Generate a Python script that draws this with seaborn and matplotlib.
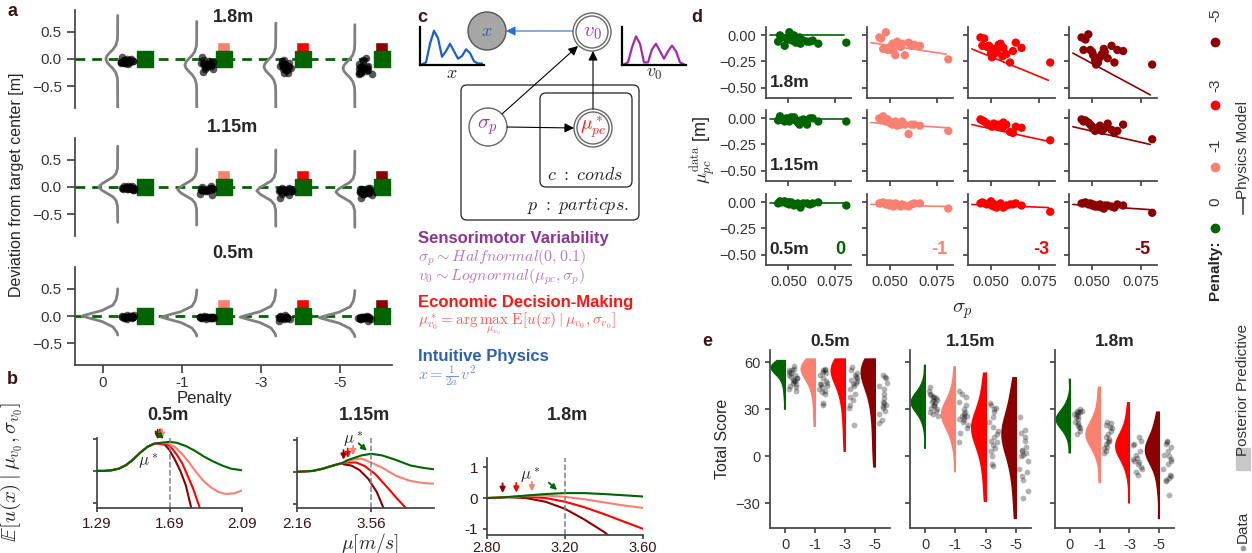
import numpy as np
import pandas as pd
import matplotlib
matplotlib.use('Agg')
import matplotlib.pyplot as plt
import matplotlib.transforms as mtransforms
from matplotlib.patches import Circle, FancyBboxPatch, Rectangle
import seaborn as sns

np.random.seed(3)

W, H = 1252, 553

penalties = ['0', '-1', '-3', '-5']
pen_colors = ['#006400', '#fa8072', '#ff0000', '#8b0000']
dark = '#3b1414'

# ---------------- panel d / a : per participant mean deviation ----------------
sigma_p = [0.0445, 0.0455, 0.0465, 0.0480, 0.0490, 0.0500, 0.0505, 0.0515, 0.0520, 0.0530,
           0.0540, 0.0550, 0.0560, 0.0565, 0.0580, 0.0600, 0.0615, 0.0630, 0.0660, 0.0810]

mu_18_p0 = [-0.06, 0.00, -0.02, -0.10, -0.03, -0.04, 0.03, -0.01, -0.05, 0.00,
            -0.07, -0.03, -0.02, -0.08, -0.05, -0.06, -0.06, -0.05, -0.08, -0.07]
mu_18_p1 = [-0.02, -0.03, -0.13, 0.03, -0.14, -0.12, -0.11, -0.08, -0.15, -0.19,
            -0.06, -0.10, -0.11, -0.08, -0.19, -0.07, -0.10, -0.09, -0.10, -0.23]
mu_18_p3 = [-0.02, -0.10, -0.03, -0.11, -0.10, -0.17, -0.21, -0.18, -0.13, -0.16,
            -0.09, -0.08, -0.20, -0.12, -0.18, -0.26, -0.15, -0.07, -0.12, -0.26]
mu_18_p5 = [-0.02, -0.14, -0.04, 0.01, -0.14, -0.16, -0.19, -0.24, -0.28, -0.26,
            -0.21, -0.18, -0.13, -0.16, -0.22, -0.10, -0.26, -0.14, -0.15, -0.28]

mu_115_p0 = [-0.02, 0.02, -0.01, -0.03, 0.00, -0.02, -0.03, 0.01, -0.01, 0.01,
             -0.02, -0.04, -0.06, -0.02, -0.01, -0.06, 0.00, 0.00, -0.03, -0.03]
mu_115_p1 = [0.00, -0.02, 0.02, -0.03, -0.01, -0.04, -0.05, -0.06, -0.04, -0.03,
             -0.07, -0.05, -0.06, -0.03, -0.06, -0.15, -0.06, -0.06, -0.07, -0.12]
mu_115_p3 = [-0.01, -0.02, -0.03, -0.05, -0.06, -0.07, -0.08, -0.05, -0.06, -0.07,
             -0.06, -0.08, -0.09, -0.04, -0.06, -0.13, -0.14, -0.08, -0.09, -0.21]
mu_115_p5 = [-0.01, -0.03, -0.02, -0.04, -0.06, -0.08, -0.10, -0.12, -0.11, -0.09,
             -0.07, -0.12, -0.10, -0.09, -0.05, -0.11, -0.14, -0.12, -0.06, -0.20]

mu_05_p0 = [-0.01, 0.01, 0.00, 0.01, -0.01, 0.00, -0.02, 0.00, -0.01, -0.03,
            -0.02, -0.01, -0.03, -0.05, -0.01, -0.01, -0.02, -0.01, 0.00, -0.03]
mu_05_p1 = [-0.01, -0.01, 0.00, -0.02, -0.01, -0.03, -0.01, -0.02, -0.04, -0.01,
            -0.02, -0.03, -0.04, -0.02, -0.03, -0.04, -0.02, -0.01, -0.01, -0.06]
mu_05_p3 = [-0.01, 0.00, -0.01, -0.02, -0.01, 0.01, -0.03, -0.04, -0.02, -0.05,
            -0.03, -0.01, -0.04, -0.05, -0.03, -0.02, -0.02, -0.01, -0.03, -0.09]
mu_05_p5 = [-0.01, -0.01, 0.00, -0.02, -0.01, -0.03, -0.02, -0.04, -0.03, -0.04,
            -0.02, -0.05, -0.06, -0.03, -0.03, -0.04, -0.05, -0.02, -0.03, -0.10]

# physics model lines (sigma at ends, mu at ends)
model_sigma = [0.040, 0.080]
model_18 = [[0.00, 0.00], [-0.07, -0.18], [-0.13, -0.43], [-0.17, -0.57]]
model_115 = [[-0.01, -0.01], [-0.04, -0.09], [-0.06, -0.22], [-0.08, -0.25]]
model_05 = [[-0.01, -0.01], [-0.02, -0.04], [-0.02, -0.05], [-0.02, -0.07]]

# ---------------- panel a : endpoint distribution shapes ----------------
curve_dy_18 = [-0.9, -0.45, -0.35, -0.25, -0.18, -0.12, -0.06, 0, 0.06, 0.12, 0.18, 0.25, 0.35, 0.45, 0.8]
curve_w_18 = [0, 0.001, 0.004, 0.024, 0.057, 0.098, 0.135, 0.15, 0.135, 0.098, 0.057, 0.024, 0.004, 0.001, 0]
curve_dy_115 = [-0.65, -0.35, -0.25, -0.18, -0.12, -0.06, 0, 0.06, 0.12, 0.18, 0.25, 0.35, 0.75]
curve_w_115 = [0, 0.002, 0.02, 0.06, 0.13, 0.20, 0.24, 0.20, 0.13, 0.06, 0.02, 0.002, 0]
curve_dy_05 = [-0.35, -0.3, -0.2, -0.1, -0.05, 0, 0.05, 0.1, 0.2, 0.3, 0.4, 0.5]
curve_w_05 = [0, 0.01, 0.06, 0.20, 0.33, 0.45, 0.33, 0.20, 0.06, 0.02, 0.005, 0]
curve_center_18 = [0.0, -0.11, -0.14, -0.17]
curve_center_115 = [0.0, -0.05, -0.07, -0.09]
curve_center_05 = [0.0, -0.02, -0.02, -0.03]
penalty_zone_top = 0.32

# ---------------- panel b : expected utility curves ----------------
b05_rise_mu = [1.29, 1.33, 1.37, 1.41, 1.45, 1.49, 1.53, 1.57, 1.61]
b05_rise_u = [0.0, 0.0, 0.02, 0.07, 0.18, 0.36, 0.58, 0.76, 0.86]
b05_mu_p0 = [1.64, 1.69, 1.73, 1.78, 1.83, 1.88, 1.93, 1.98, 2.03, 2.09]
b05_u_p0 = [0.9, 0.91, 0.88, 0.78, 0.63, 0.45, 0.3, 0.17, 0.07, 0.02]
b05_mu_p1 = [1.64, 1.68, 1.72, 1.76, 1.80, 1.84, 1.88, 1.92, 1.96, 2.00, 2.05, 2.09]
b05_u_p1 = [0.9, 0.87, 0.75, 0.53, 0.25, -0.06, -0.33, -0.52, -0.66, -0.72, -0.70, -0.61]
b05_mu_p3 = [1.64, 1.67, 1.70, 1.73, 1.76, 1.79, 1.82, 1.86, 1.90]
b05_u_p3 = [0.9, 0.86, 0.73, 0.51, 0.24, -0.15, -0.55, -1.2, -1.9]
b05_mu_p5 = [1.64, 1.665, 1.69, 1.72, 1.75, 1.78, 1.81, 1.85]
b05_u_p5 = [0.89, 0.82, 0.65, 0.35, 0.0, -0.45, -1.16, -2.0]
b05_mu_star = [1.67, 1.648, 1.637, 1.625]

b115_rise_mu = [2.16, 2.46, 2.65, 2.85, 3.01]
b115_rise_u = [0.0, 0.03, 0.1, 0.2, 0.27]
b115_mu_p0 = [3.01, 3.11, 3.38, 3.56, 3.77, 4.03, 4.30, 4.56, 4.80]
b115_u_p0 = [0.27, 0.36, 0.51, 0.56, 0.51, 0.37, 0.2, 0.12, 0.07]
b115_mu_p1 = [3.01, 3.18, 3.38, 3.56, 3.77, 4.03, 4.30, 4.56, 4.80]
b115_u_p1 = [0.27, 0.37, 0.41, 0.29, 0.13, -0.12, -0.28, -0.35, -0.37]
b115_mu_p3 = [3.01, 3.11, 3.28, 3.44, 3.64, 3.84, 4.03, 4.23, 4.4]
b115_u_p3 = [0.27, 0.29, 0.29, 0.18, -0.07, -0.43, -0.79, -1.14, -1.5]
b115_mu_p5 = [3.01, 3.05, 3.18, 3.34, 3.51, 3.67, 3.80, 3.95]
b115_u_p5 = [0.27, 0.23, 0.2, 0.06, -0.22, -0.63, -1.14, -1.7]
b115_mu_star = [3.52, 3.22, 3.12, 3.04]

b18_rise_mu = [2.80, 2.85, 2.90]
b18_rise_u = [0.0, 0.01, 0.03]
b18_mu_p0 = [2.90, 3.0, 3.1, 3.2, 3.3, 3.4, 3.5, 3.6]
b18_u_p0 = [0.03, 0.08, 0.13, 0.16, 0.16, 0.13, 0.09, 0.05]
b18_mu_p1 = [2.90, 3.0, 3.1, 3.2, 3.3, 3.4, 3.5, 3.6]
b18_u_p1 = [0.03, 0.07, 0.08, 0.04, -0.04, -0.14, -0.24, -0.32]
b18_mu_p3 = [2.90, 3.0, 3.1, 3.2, 3.3, 3.4, 3.5, 3.6]
b18_u_p3 = [0.03, 0.04, 0.0, -0.12, -0.3, -0.52, -0.76, -1.0]
b18_mu_p5 = [2.90, 3.0, 3.1, 3.2, 3.3, 3.4, 3.5]
b18_u_p5 = [0.03, 0.0, -0.12, -0.35, -0.7, -1.1, -1.6]
b18_mu_star = [3.17, 3.03, 2.95, 2.88]

# ---------------- panel c : mini densities ----------------
x_density = [0, 0.05, 0.55, 0.9, 0.7, 0.2, 0.35, 0.55, 0.35, 0.15, 0.22, 0.4, 0.3, 0.08, 0.02, 0.02]
v0_density = [0, 0.05, 0.45, 0.75, 0.55, 0.05, 0.05, 0.4, 0.55, 0.35, 0.15, 0.35, 0.5, 0.35, 0.05, 0]

# ---------------- panel e : total scores ----------------
score_05_p0 = [58, 56, 55, 55, 54, 53, 52, 52, 51, 50, 50, 49, 48, 48, 47, 46, 45, 44, 43, 42]
score_05_p1 = [56, 55, 55, 54, 53, 52, 50, 48, 47, 46, 46, 45, 44, 43, 42, 41, 40, 34, 33]
score_05_p3 = [57, 55, 53, 52, 51, 50, 49, 48, 47, 46, 45, 43, 40, 38, 36, 33, 31, 20]
score_05_p5 = [52, 51, 50, 47, 45, 43, 40, 37, 35, 34, 33, 32, 31, 29, 27, 23, 21]
score_115_p0 = [44, 42, 40, 39, 38, 38, 37, 36, 36, 35, 34, 33, 32, 31, 30, 29, 28, 27, 26]
score_115_p1 = [42, 40, 38, 35, 33, 30, 28, 27, 26, 26, 25, 24, 23, 22, 20, 18, 15, 9]
score_115_p3 = [34, 33, 31, 30, 28, 25, 22, 19, 16, 14, 12, 10, 9, 7, 5, 3, 0, -5, -6]
score_115_p5 = [25, 17, 15, 12, 10, 6, 4, 3, 2, 1, 0, -3, -8, -10, -13, -15, -22, -27]
score_18_p0 = [30, 29, 29, 28, 28, 27, 27, 26, 25, 24, 22, 21, 20, 19, 18, 16, 14]
score_18_p1 = [22, 21, 20, 19, 18, 16, 14, 12, 11, 10, 9, 8, 6, 5, 3, 2]
score_18_p3 = [12, 10, 8, 7, 3, 1, -1, -2, -3, -4, -5, -7, -8, -10, -12]
score_18_p5 = [10, 9, 8, 6, 3, 1, 0, -2, -3, -5, -8, -12, -13, -14, -15, -16, -25]

pp_05_p0 = [30, 38, 44, 48, 51, 53, 54, 55, 56, 56, 57, 57, 58, 58, 59, 60, 61, 62]
pp_05_p1 = [19, 28, 36, 42, 46, 49, 51, 53, 54, 55, 56, 57, 58, 59, 60, 61, 63]
pp_05_p3 = [3, 15, 25, 33, 39, 43, 47, 50, 52, 54, 55, 56, 57, 58, 60, 61, 63]
pp_05_p5 = [-7, 5, 15, 25, 32, 38, 43, 47, 50, 52, 54, 55, 56, 57, 59, 61, 63]
pp_115_p0 = [5, 18, 25, 28, 30, 32, 33, 34, 35, 35, 36, 37, 38, 40, 43, 48, 59]
pp_115_p1 = [-10, 5, 12, 17, 20, 23, 25, 26, 27, 28, 29, 31, 33, 36, 41, 48, 58]
pp_115_p3 = [-29, -15, -5, 2, 7, 11, 14, 16, 18, 19, 21, 23, 26, 30, 36, 44, 54]
pp_115_p5 = [-40, -25, -14, -6, 0, 5, 9, 12, 13, 15, 17, 20, 24, 29, 35, 42, 51]
pp_18_p0 = [2, 12, 16, 19, 21, 22, 23, 23, 24, 25, 26, 27, 29, 32, 37, 50]
pp_18_p1 = [-17, -2, 4, 8, 10, 12, 13, 14, 15, 16, 18, 20, 23, 28, 35, 45]
pp_18_p3 = [-30, -14, -6, -1, 2, 4, 5, 6, 7, 8, 10, 12, 15, 20, 27, 35]
pp_18_p5 = [-40, -22, -12, -5, -1, 1, 2, 3, 4, 5, 7, 9, 12, 17, 22, 29]

# ---------------- lookups ----------------
mu_data = {'1.8m': [mu_18_p0, mu_18_p1, mu_18_p3, mu_18_p5],
           '1.15m': [mu_115_p0, mu_115_p1, mu_115_p3, mu_115_p5],
           '0.5m': [mu_05_p0, mu_05_p1, mu_05_p3, mu_05_p5]}
model_lines = {'1.8m': model_18, '1.15m': model_115, '0.5m': model_05}
curve_shape = {'1.8m': (curve_dy_18, curve_w_18, curve_center_18),
               '1.15m': (curve_dy_115, curve_w_115, curve_center_115),
               '0.5m': (curve_dy_05, curve_w_05, curve_center_05)}

rows = []
for dist, lists in [('0.5m', [score_05_p0, score_05_p1, score_05_p3, score_05_p5]),
                    ('1.15m', [score_115_p0, score_115_p1, score_115_p3, score_115_p5]),
                    ('1.8m', [score_18_p0, score_18_p1, score_18_p3, score_18_p5])]:
    for pen, vals in zip(penalties, lists):
        rows += [(dist, pen, v) for v in vals]
score_df = pd.DataFrame(rows, columns=['dist', 'pen', 'score'])
rows = []
for dist, lists in [('0.5m', [pp_05_p0, pp_05_p1, pp_05_p3, pp_05_p5]),
                    ('1.15m', [pp_115_p0, pp_115_p1, pp_115_p3, pp_115_p5]),
                    ('1.8m', [pp_18_p0, pp_18_p1, pp_18_p3, pp_18_p5])]:
    for pen, vals in zip(penalties, lists):
        rows += [(dist, pen, v) for v in vals]
pp_df = pd.DataFrame(rows, columns=['dist', 'pen', 'score'])

# ---------------- style ----------------
sns.set_theme(style='ticks')
plt.rcParams['font.family'] = ['Liberation Sans', 'DejaVu Sans']
plt.rcParams['mathtext.fontset'] = 'cm'
plt.rcParams['axes.edgecolor'] = '#444444'
plt.rcParams['xtick.color'] = '#444444'
plt.rcParams['ytick.color'] = '#444444'
plt.rcParams['xtick.labelcolor'] = '#333333'
plt.rcParams['ytick.labelcolor'] = '#333333'

fig = plt.figure(figsize=(W / 100, H / 100), dpi=100)


def add_ax(x0, y0, x1, y1):
    return fig.add_axes([x0 / W, 1 - y1 / H, (x1 - x0) / W, (y1 - y0) / H])


def ftext(x, y, s, **kw):
    return fig.text(x / W, 1 - y / H, s, **kw)


def shift(ax, dx):
    return mtransforms.offset_copy(ax.transData, fig=fig, x=dx, y=0, units='dots')


# ================= panel a =================
a_boxes = {'1.8m': (75, 10, 392, 108), '1.15m': (75, 138, 392, 236), '0.5m': (75, 267, 392, 365)}
a_title_y = {'1.8m': 17, '1.15m': 128, '0.5m': 253}
for dist, box in a_boxes.items():
    ax = add_ax(*box)
    dy, w, centers = curve_shape[dist]
    for i in range(4):
        ax.plot(i + 0.19 - np.array(w), centers[i] + np.array(dy), color='#808080', lw=2, zorder=2)
        if i > 0:
            ax.bar(i + 0.53, penalty_zone_top, width=0.17, color=pen_colors[i], zorder=3)
    ax.axhline(0, color='#006400', ls=(0, (3.5, 2.5)), lw=2, zorder=1)
    ax.plot(np.arange(4) + 0.53, [0] * 4, ls='none', marker='s', ms=11, color='#006400', zorder=4)
    dots = pd.DataFrame([(p, v) for p, vals in zip(penalties, mu_data[dist]) for v in vals], columns=['pen', 'mu'])
    sns.stripplot(data=dots, x='pen', y='mu', order=penalties, color='black', alpha=0.65, size=5.5,
                  jitter=0.09, ax=ax, transform=shift(ax, 25), zorder=5)
    ax.set_xlim(-0.35, 3.66)
    ax.set_ylim(-0.9, 0.9)
    ax.set_yticks([-0.5, 0, 0.5])
    ax.set_ylabel('')
    ax.set_xlabel('')
    ax.tick_params(labelsize=11)
    ftext(233, a_title_y[dist], dist, fontsize=13, fontweight='bold', ha='center', va='center')
    if dist == '0.5m':
        ax.set_xticks(range(4), penalties)
        ax.tick_params(axis='x', pad=2)
        sns.despine(ax=ax)
    else:
        ax.set_xticks([])
        sns.despine(ax=ax, bottom=True)
ftext(17, 185, 'Deviation from target center [m]', rotation=90, ha='center', va='center', fontsize=11.5)
ftext(205, 399, 'Penalty', ha='center', va='center', fontsize=12)

# ================= panel b =================
b_specs = [
    ('0.5m', (97, 438, 242, 508), (1.29, 2.09), (-1.16, 1.03), [1.29, 1.69, 2.09], 1.69,
     b05_rise_mu, b05_rise_u, [(b05_mu_p0, b05_u_p0), (b05_mu_p1, b05_u_p1), (b05_mu_p3, b05_u_p3), (b05_mu_p5, b05_u_p5)],
     b05_mu_star, (1.575, 0.3), 168),
    ('1.15m', (297, 438, 434, 508), (2.16, 4.75), (-1.12, 1.05), [2.16, 3.56], 3.56,
     b115_rise_mu, b115_rise_u, [(b115_mu_p0, b115_u_p0), (b115_mu_p1, b115_u_p1), (b115_mu_p3, b115_u_p3), (b115_mu_p5, b115_u_p5)],
     b115_mu_star, (3.22, 1.02), 365),
    ('1.8m', (487, 458, 643, 535), (2.80, 3.60), (-1.2, 1.3), [2.80, 3.20, 3.60], 3.20,
     b18_rise_mu, b18_rise_u, [(b18_mu_p0, b18_u_p0), (b18_mu_p1, b18_u_p1), (b18_mu_p3, b18_u_p3), (b18_mu_p5, b18_u_p5)],
     b18_mu_star, (3.02, 0.75), 567),
]
for dist, box, xl, yl, xt, target, rmu, ru, tails, mstar, mlab, tx in b_specs:
    ax = add_ax(*box)
    for i in range(3, -1, -1):
        mu_c = rmu + tails[i][0][1:]
        u_c = ru + tails[i][1][1:]
        sns.lineplot(x=mu_c, y=u_c, color=pen_colors[i], lw=1.5, sort=False, ax=ax)
        yv = np.interp(mstar[i], mu_c, u_c)
        start = (-9, 8) if i == 0 else (0, 11)
        ax.annotate('', xy=(mstar[i], yv + 0.05), xytext=start, textcoords='offset points',
                    arrowprops=dict(arrowstyle='-|>', color=pen_colors[i], lw=1.3, mutation_scale=8))
    ax.axvline(target, color='#808080', ls='--', lw=1.1)
    ax.text(mlab[0], mlab[1], r'$\mu^*$', fontsize=12, ha='center', va='center', clip_on=False)
    ax.set_xlim(*xl)
    ax.set_ylim(*yl)
    ax.set_xticks(xt, ['%.2f' % v for v in xt])
    ax.set_yticks([-1, 0, 1])
    if dist == '1.8m':
        ax.set_yticklabels(['-1', '0', '1'])
        ax.tick_params(axis='x', labelsize=10.5, pad=1.5)
    else:
        ax.set_yticklabels([])
        ax.tick_params(axis='x', labelsize=11)
    ax.tick_params(labelcolor=dark, length=3)
    ax.tick_params(axis='y', labelsize=11)
    ftext(tx, 416, dist, fontsize=13, fontweight='bold', ha='center', va='center')
    sns.despine(ax=ax)
ftext(12, 472, r'$\mathbb{E}[u(x)\mid\mu_{v_0},\sigma_{v_0}]$', rotation=90, ha='center', va='center', fontsize=15)
ftext(370, 543, r'$\mu[m/s]$', ha='center', va='center', fontsize=14)

# ================= panel c =================
axc = add_ax(410, 0, 700, 230)
axc.set_xlim(410, 700)
axc.set_ylim(230, 0)
axc.axis('off')
axc.add_patch(FancyBboxPatch((461, 85), 178, 135, boxstyle='round,pad=0,rounding_size=6',
                             fc='none', ec='#222222', lw=0.9))
axc.add_patch(FancyBboxPatch((540, 93), 92, 94, boxstyle='round,pad=0,rounding_size=6',
                             fc='none', ec='#222222', lw=0.9))
axc.add_patch(Circle((487, 31), 19, fc='#a6a6a6', ec='#555555', lw=1))
for cx, cy in [(592, 32), (593, 128)]:
    axc.add_patch(Circle((cx, cy), 19, fc='white', ec='#666666', lw=1))
    axc.add_patch(Circle((cx, cy), 16, fc='none', ec='#666666', lw=1))
axc.add_patch(Circle((488, 127), 19, fc='white', ec='#666666', lw=1))
axc.text(487, 31, '$x$', color='#2d5fb5', fontsize=13, ha='center', va='center')
axc.text(592, 32, '$v_0$', color='#9b3aa8', fontsize=15, ha='center', va='center')
axc.text(488, 127, r'$\sigma_p$', color='#9b3aa8', fontsize=15, ha='center', va='center')
axc.text(593, 128, r'$\mu^*_{pc}$', color='#ff1a1a', fontsize=14, ha='center', va='center')
arrow = dict(arrowstyle='-|>', color='black', lw=0.8, mutation_scale=14, shrinkA=0, shrinkB=0)
axc.annotate('', xy=(506, 31), xytext=(573, 31), arrowprops=dict(arrow, color='#2d6fd0'))
axc.annotate('', xy=(578, 46), xytext=(502, 114), arrowprops=arrow)
axc.annotate('', xy=(574, 128), xytext=(507, 127), arrowprops=arrow)
axc.annotate('', xy=(593, 51), xytext=(593, 109), arrowprops=arrow)
axc.text(585, 175, r'$c\ :\ conds$', fontsize=13, ha='center', va='center')
axc.text(578, 206, r'$p\ :\ particps.$', fontsize=13, ha='center', va='center')

for box, dens, col, lab in [((420, 27, 484, 65), x_density, '#1f5fc8', '$x$'),
                            ((622, 27, 686, 65), v0_density, '#a02ca8', '$v_0$')]:
    mini = add_ax(*box)
    mini.set_facecolor('none')
    sns.lineplot(x=np.arange(len(dens)), y=dens, color=col, lw=1.6, ax=mini)
    mini.set_xlim(-0.5, len(dens) - 0.5)
    mini.set_ylim(-0.02, 1)
    mini.set_xticks([])
    mini.set_yticks([])
    for s in ['left', 'bottom']:
        mini.spines[s].set_color('black')
        mini.spines[s].set_linewidth(1.6)
    sns.despine(ax=mini)
    mini.set_xlabel(lab, fontsize=13, labelpad=0)

ftext(418, 238, 'Sensorimotor Variability', color='#8a3595', fontsize=12, fontweight='bold', va='center')
ftext(418, 258, r'$\sigma_p \sim Halfnormal(0, 0.1)$', color='#b57ac2', fontsize=11.5, va='center')
ftext(418, 277, r'$v_0 \sim Lognormal(\mu_{pc}, \sigma_p)$', color='#b57ac2', fontsize=11.5, va='center')
ftext(418, 302, 'Economic Decision-Making', color='#ff1414', fontsize=12, fontweight='bold', va='center')
ftext(418, 324, r'$\mu^*_{v_0} = \arg\max_{\mu_{v_0}}\ \mathrm{E}[u(x)\mid\mu_{v_0},\sigma_{v_0}]$',
      color='#ff5a5a', fontsize=11, va='center')
ftext(418, 356, 'Intuitive Physics', color='#2d5fb5', fontsize=12, fontweight='bold', va='center')
ftext(418, 376, r'$x = \frac{1}{2a}\, v^2$', color='#6f93d6', fontsize=11.5, va='center')

# ================= panel d =================
d_cols = [(766, 851), (867, 953), (968, 1055), (1069, 1157)]
d_rows = {'1.8m': (27, 98), '1.15m': (110, 181), '0.5m': (194, 265)}
for r, (dist, (y0, y1)) in enumerate(d_rows.items()):
    for c, (x0, x1) in enumerate(d_cols):
        ax = add_ax(x0, y0, x1, y1)
        sns.lineplot(x=model_sigma, y=model_lines[dist][c], color=pen_colors[c], lw=1.2, ax=ax)
        sns.scatterplot(x=sigma_p, y=mu_data[dist][c], color=pen_colors[c], s=36, edgecolor='none', ax=ax)
        ax.set_xlim(0.038, 0.0835)
        ax.set_ylim(-0.6, 0.08)
        ax.set_xticks([0.05, 0.075])
        ax.set_yticks([-0.5, -0.25, 0.0])
        ax.tick_params(labelsize=10.5, length=3.5)
        if dist != '0.5m':
            ax.set_xticklabels([])
        else:
            ax.set_xticklabels(['0.050', '0.075'])
            ax.text(0.93, 0.22, penalties[c], transform=ax.transAxes, color=pen_colors[c],
                    fontsize=13, fontweight='bold', ha='right', va='center')
        if c > 0:
            ax.set_yticklabels([])
        else:
            ax.set_yticklabels(['\u22120.50', '\u22120.25', '0.00'])
            ax.text(0.04, 0.22, dist, transform=ax.transAxes, fontsize=12.5, fontweight='bold',
                    ha='left', va='center')
        sns.despine(ax=ax)
ftext(703, 150, r'$\mu_{pc}^{\mathrm{data}}$ [m]', rotation=90, ha='center', va='center', fontsize=13)
ftext(963, 311, r'$\sigma_p$', ha='center', va='center', fontsize=15)

# ================= panel e =================
e_boxes = {'0.5m': (770, 350, 890, 528), '1.15m': (910, 350, 1031, 528), '1.8m': (1055, 350, 1174, 528)}
for k, (dist, box) in enumerate(e_boxes.items()):
    ax = add_ax(*box)
    sns.violinplot(data=pp_df[pp_df['dist'] == dist], x='pen', y='score', hue='pen', order=penalties,
                   hue_order=penalties, palette=pen_colors, inner=None, cut=0, density_norm='width',
                   width=1.0, linewidth=0, bw_adjust=0.8, legend=False, saturation=1, ax=ax)
    for coll in list(ax.collections):
        v = coll.get_paths()[0].vertices
        cx = (v[:, 0].min() + v[:, 0].max()) / 2
        coll.set_clip_path(Rectangle((cx - 1, -200), 1, 400, transform=ax.transData))
    sns.stripplot(data=score_df[score_df['dist'] == dist], x='pen', y='score', order=penalties,
                  color='black', alpha=0.3, size=4.2, jitter=0.15, ax=ax, transform=shift(ax, 8))
    ax.set_xlim(-0.5, 3.5)
    ax.set_ylim(-46, 68)
    ax.set_yticks([-30, 0, 30, 60])
    ax.set_xlabel('')
    ax.set_ylabel('')
    ax.tick_params(labelsize=10.5, length=3.5)
    if k > 0:
        ax.set_yticklabels([])
    else:
        ax.set_yticklabels(['\u221230', '0', '30', '60'])
        ax.set_ylabel('Total Score', fontsize=11.5)
    ftext((box[0] + box[2]) / 2, 342, dist, fontsize=12.5, fontweight='bold', ha='center', va='center')
    sns.despine(ax=ax)

# ================= rotated legend =================
for pen, col, yt, yd in [('-5', pen_colors[3], 15, 42), ('-3', pen_colors[2], 85, 105),
                         ('-1', pen_colors[1], 145, 167), ('0', pen_colors[0], 202, 228)]:
    ftext(1215, yt, pen, rotation=90, ha='center', va='center', fontsize=11, color='#333333')
    fig.lines.append(plt.Line2D([1215 / W], [1 - yd / H], marker='o', ms=6, color=col, ls='none',
                                transform=fig.transFigure))
ftext(1215, 270, 'Penalty:', rotation=90, ha='center', va='center', fontsize=11, fontweight='bold')
ftext(1243, 150, 'Physics Model', rotation=90, ha='center', va='center', fontsize=11, color='#333333')
fig.lines.append(plt.Line2D([1243 / W, 1243 / W], [1 - 198 / H, 1 - 214 / H], color='#666666', lw=1.5,
                            transform=fig.transFigure))
ftext(1243, 390, 'Posterior Predictive', rotation=90, ha='center', va='center', fontsize=11, color='#333333')
fig.patches.append(Rectangle((1236 / W, 1 - 470 / H), 14 / W, 22 / H, color='#c8c8c8',
                             transform=fig.transFigure))
ftext(1243, 527, 'Data', rotation=90, ha='center', va='center', fontsize=11, color='#333333')
fig.lines.append(plt.Line2D([1243 / W], [1 - 548 / H], marker='o', ms=3, color='#999999', ls='none',
                            transform=fig.transFigure))

# ================= panel letters =================
for lab, x, y in [('a', 12, 12), ('b', 12, 380), ('c', 422, 18), ('d', 697, 18), ('e', 707, 342)]:
    ftext(x, y, lab, fontsize=13, fontweight='bold', color=dark, ha='center', va='center')

fig.savefig('out.png', dpi=100)
